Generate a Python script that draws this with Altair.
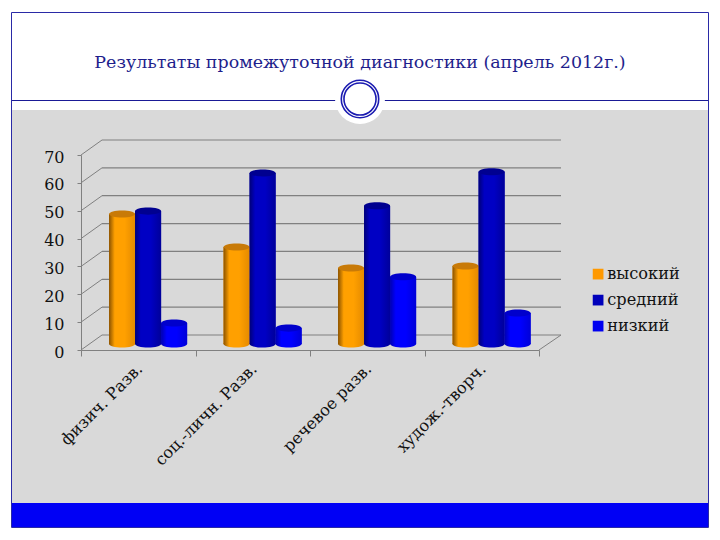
import altair as alt
import pandas as pd

TITLE = "Результаты промежуточной диагностики (апрель 2012г.)"
categories = ["физич. Разв.", "соц.-личн. Разв.", "речевое разв.", "худож.-творч."]
series = ["высокий", "средний", "низкий"]
vysokiy = [46.7, 34.8, 27.3, 28.0]
sredniy = [47.7, 61.4, 49.6, 61.8]
nizkiy = [7.5, 5.7, 24.1, 11.1]
ticks = [0, 10, 20, 30, 40, 50, 60, 70]
flat_colors = ["#FF9900", "#0000BB", "#0000F0"]
SERIF = "DejaVu Serif"

rows = []
for name, vals in zip(series, [vysokiy, sredniy, nizkiy]):
    for c, v in zip(categories, vals):
        rows.append({"cat": c, "series": name, "value": v, "zero": 0})
df = pd.DataFrame(rows)
tick_df = pd.DataFrame({"v": ticks})
one = alt.Data(values=[{"a": 1}])


def grad(edge_l, mid, edge_r):
    return alt.Gradient(
        gradient="linear", x1=0, x2=1, y1=0, y2=0,
        stops=[
            alt.GradientStop(color=edge_l, offset=0),
            alt.GradientStop(color=mid, offset=0.22),
            alt.GradientStop(color=mid, offset=0.6),
            alt.GradientStop(color=edge_r, offset=1),
        ],
    )


side = {
    "высокий": grad("#8A5200", "#FFA000", "#E48A00"),
    "средний": grad("#000078", "#0000C4", "#00009A"),
    "низкий": grad("#0000B0", "#0000FF", "#0000D8"),
}
cap = {"высокий": "#C87A08", "средний": "#000090", "низкий": "#0000CC"}

x_scale = alt.Scale(domain=categories, range=[73, 531], paddingInner=0, paddingOuter=0)
y_scale = alt.Scale(domain=[0, 70], range=[342, 147])
off_scale = alt.Scale(domain=series, paddingInner=0, paddingOuter=0.7, align=0.77)
ELLIPSE = "M-1,0A1,0.27,0,1,0,1,0A1,0.27,0,1,0,-1,0Z"
DY = -6


def deco_rect(x, x2, y, y2, **kw):
    return alt.Chart(one).mark_rect(**kw).encode(
        x=alt.value(x), x2=alt.value(x2), y=alt.value(y), y2=alt.value(y2))


panel = deco_rect(4, 700, 102, 495, color="#D9D9D9")
band = deco_rect(4, 700, 495, 519.5, color="#0000F5")
frame = deco_rect(3.5, 700.5, 4.5, 519.5, fillOpacity=0, stroke="#2A2AA6", strokeWidth=1)
header = alt.Chart(one).mark_rule(color="#1A1A96", strokeWidth=1).encode(
    x=alt.value(4), x2=alt.value(700), y=alt.value(92.5))
disc = alt.Chart(one).mark_point(filled=True, color="white", opacity=1, size=2500).encode(
    x=alt.value(352), y=alt.value(91))
ring1 = alt.Chart(one).mark_point(filled=False, color="#1A1AB0", opacity=1, size=1400, strokeWidth=1.6).encode(
    x=alt.value(352), y=alt.value(91))
ring2 = alt.Chart(one).mark_point(filled=False, color="#1A1AB0", opacity=1, size=1030, strokeWidth=1.6).encode(
    x=alt.value(352), y=alt.value(91))
title = alt.Chart(one).mark_text(
    font=SERIF, fontSize=17.45, color="#1E1E8C", align="center", baseline="middle"
).encode(x=alt.value(352), y=alt.value(55), text=alt.value(TITLE))

y_axis = alt.Axis(
    offset=-73, zindex=1, values=ticks, grid=False, title=None,
    labelFont=SERIF, labelFontSize=16, labelColor="#111111", labelPadding=13, labelOffset=2,
    domainColor="#808080", tickColor="#808080", tickSize=4,
)
grid = alt.Chart(tick_df).mark_rule(color="#808080", strokeWidth=1.2, yOffset=-15).encode(
    x=alt.value(94), x2=alt.value(553),
    y=alt.Y("v:Q", scale=y_scale, axis=y_axis))
diag = alt.Chart(tick_df).mark_rule(color="#808080", strokeWidth=1, y2Offset=-15).encode(
    x=alt.value(73), x2=alt.value(94),
    y=alt.Y("v:Q", scale=y_scale), y2="v:Q")
diag_right = alt.Chart(tick_df).transform_filter("datum.v == 0").mark_rule(
    color="#808080", strokeWidth=1, y2Offset=-15
).encode(x=alt.value(531), x2=alt.value(553), y=alt.Y("v:Q", scale=y_scale), y2="v:Q")

x_enc = alt.X(
    "cat:N", scale=x_scale, sort=categories, title=None,
    axis=alt.Axis(
        offset=-182, zindex=1, labelAngle=-45, labelAlign="right", labelBaseline="middle",
        labelFont=SERIF, labelFontSize=16.2, labelColor="#111111", labelPadding=10, labelOffset=1,
        domainColor="#808080", tickColor="#808080", tickSize=6, tickBand="extent",
        labelOverlap=False, labelLimit=300,
    ),
)
off_enc = alt.XOffset("series:N", scale=off_scale, sort=series)

base_bars = alt.Chart(df).mark_bar(yOffset=DY, y2Offset=DY).encode(
    x=x_enc, xOffset=off_enc, y=alt.Y("value:Q", scale=y_scale), y2="zero:Q",
    color=alt.Color(
        "series:N", sort=series,
        scale=alt.Scale(domain=series, range=flat_colors),
        legend=alt.Legend(
            title=None, orient="none", legendX=582, legendY=258, symbolType="square",
            symbolSize=115, symbolStrokeWidth=0, labelFont=SERIF, labelFontSize=16.2,
            labelColor="#111111", rowPadding=9, labelOffset=1,
        ),
    ),
)

layers = [panel, band, frame, header, disc, ring1, ring2, title, grid, diag, diag_right, base_bars]
for name in series:
    sub = alt.Chart(df).transform_filter(alt.datum.series == name)
    bottom = sub.mark_point(filled=True, shape=ELLIPSE, size=676, opacity=1, fill=side[name],
                            strokeWidth=0, yOffset=DY).encode(
        x=alt.X("cat:N", scale=x_scale, sort=categories), xOffset=off_enc,
        y=alt.Y("zero:Q", scale=y_scale))
    body = sub.mark_bar(fill=side[name], yOffset=DY, y2Offset=DY).encode(
        x=alt.X("cat:N", scale=x_scale, sort=categories), xOffset=off_enc,
        y=alt.Y("value:Q", scale=y_scale), y2="zero:Q")
    top = sub.mark_point(filled=True, shape=ELLIPSE, size=676, opacity=1, fill=cap[name],
                         strokeWidth=0, yOffset=DY).encode(
        x=alt.X("cat:N", scale=x_scale, sort=categories), xOffset=off_enc,
        y=alt.Y("value:Q", scale=y_scale))
    layers += [bottom, body, top]

chart = alt.layer(*layers).properties(
    width=704, height=524, padding=0, background="white",
    autosize=alt.AutoSizeParams(type="none"),
).configure_view(stroke=None)

chart.save("out.html", embed_options={"renderer": "svg", "actions": False})
